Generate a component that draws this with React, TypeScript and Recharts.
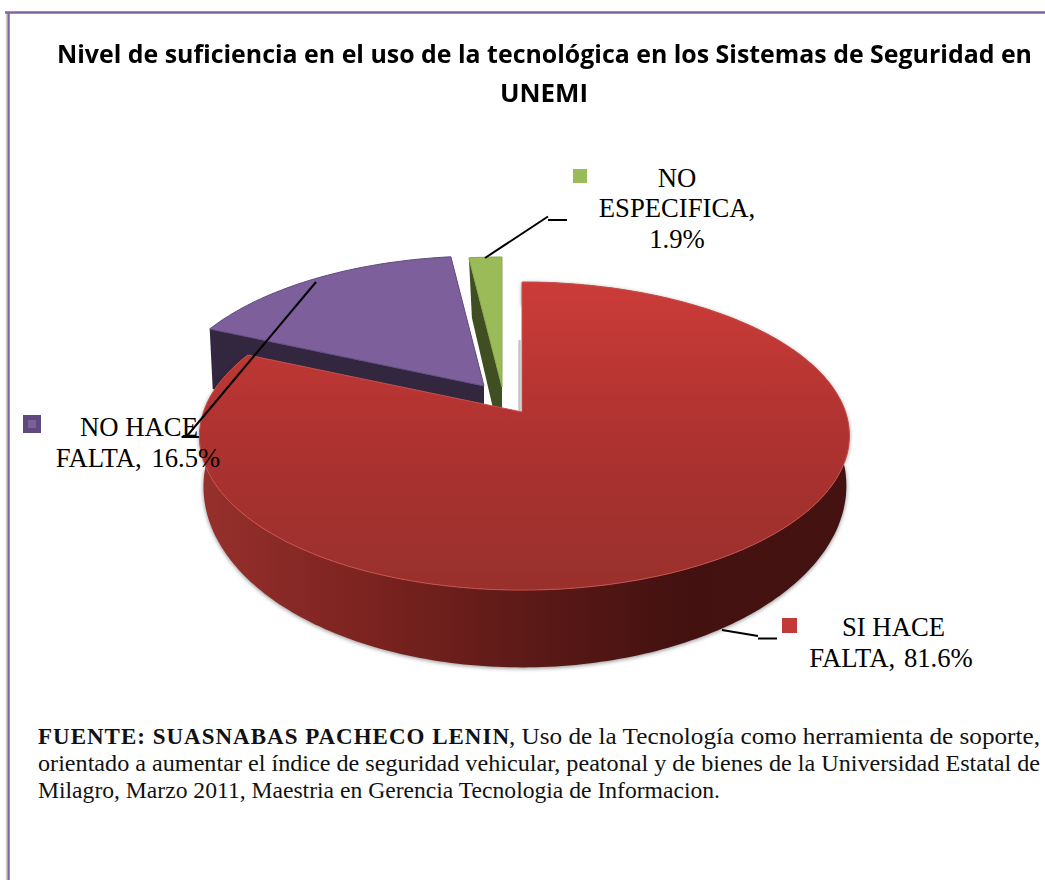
import React from "react";
import { PieChart, Pie } from "recharts";

const categories = ["NO HACE FALTA", "NO ESPECIFICA", "SI HACE FALTA"];
const values = [16.5, 1.9, 81.6];
const titleLines = [
  "Nivel de suficiencia en el uso de la tecnológica en los Sistemas de Seguridad en",
  "UNEMI",
];
const sourceBold = "FUENTE: SUASNABAS PACHECO LENIN";
const sourceLines = [
  ", Uso de la Tecnología como herramienta de soporte,",
  "orientado a aumentar el índice de seguridad vehicular, peatonal y de bienes de la Universidad Estatal de",
  "Milagro, Marzo 2011, Maestria en Gerencia Tecnologia de Informacion.",
];

// Look of each slice, same order as categories
const explode = [
  { dx: -38, dy: -26 },
  { dx: -20, dy: -25 },
  { dx: 0, dy: 0 },
];
const faceFill = ["#7d5f9b", "#9bbb59", "url(#redFace)"];
const faceStroke = ["#5f4a80", "#8aa84e", "#c9504c"];
const cutFill = ["#33273f", "#404f22", "none"];

const TOP = { shift: 0, A: 321, B: 150.3, p: 0.156, skew: 2.5 };
const BOTTOM = { shift: 46, A: 317.5, B: 176.7, p: 0.156, skew: 3 };
const CUT_DEPTH = 60;
const CUT_SLANT = 3;

function project(deg: number, f: typeof TOP, cx: number, cy: number) {
  const r = (deg * Math.PI) / 180;
  const u = Math.cos(r);
  const v = Math.sin(r);
  const w = 1 + f.p * v;
  return [cx + (f.A * u) / w + f.skew * u * u, cy + f.shift - (f.B * v) / w];
}

function arc(start: number, end: number, f: typeof TOP, cx: number, cy: number) {
  const n = Math.max(8, Math.ceil(Math.abs(end - start)));
  const pts: number[][] = [];
  for (let i = 0; i <= n; i++) pts.push(project(start + ((end - start) * i) / n, f, cx, cy));
  return pts;
}
const toPath = (pts: number[][]) =>
  "M" + pts.map((p) => p[0].toFixed(1) + " " + p[1].toFixed(1)).join("L") + "Z";

function Slice3D(props: any) {
  const { cx, cy, startAngle, endAngle, index } = props;
  const { dx, dy } = explode[index];
  const x = cx + dx;
  const y = cy + dy;
  const top = arc(startAngle, endAngle, TOP, x, y);
  const isMain = index === 2;
  const face = toPath([[x, y], ...top]);
  const far = top[0];
  return (
    <g>
      {isMain ? (
        <g>
          <defs>
            <linearGradient id="redFace" gradientUnits="userSpaceOnUse" x1="0" y1="282" x2="0" y2="592">
              <stop offset="0" stopColor="#cb3c38" />
              <stop offset="0.5" stopColor="#ae3230" />
              <stop offset="1" stopColor="#98302c" />
            </linearGradient>
            <linearGradient id="redWall" gradientUnits="userSpaceOnUse" x1="203" y1="0" x2="850" y2="0">
              <stop offset="0" stopColor="#96302c" />
              <stop offset="0.25" stopColor="#7c2320" />
              <stop offset="0.5" stopColor="#5c1a17" />
              <stop offset="0.75" stopColor="#421110" />
              <stop offset="1" stopColor="#431211" />
            </linearGradient>
          </defs>
          <path
            d={toPath([...top, ...arc(startAngle, endAngle, BOTTOM, x, y).reverse()])}
            fill="url(#redWall)"
            style={{ filter: "drop-shadow(0px 1px 2px rgba(0,0,0,0.45))" }}
          />
          <line x1={x - 2.5} y1={y - 72} x2={x - 2.5} y2={y} stroke="#c4c4c4" strokeWidth={2.5} />
        </g>
      ) : (
        <path
          d={toPath([[x, y], far, [far[0] + CUT_SLANT, far[1] + CUT_DEPTH], [x, y + CUT_DEPTH]])}
          fill={cutFill[index]}
        />
      )}
      <path d={face} fill={faceFill[index]} stroke={faceStroke[index]} strokeWidth={1} />
    </g>
  );
}

const pieData = categories.map((name, i) => ({ name, value: values[i] }));

const serif = "'Liberation Serif', serif";
const labelStyle = { fontFamily: serif, fontSize: 26.7, fill: "#000" } as const;

function Overlay() {
  return (
    <svg width={1045} height={880} style={{ position: "absolute", left: 0, top: 0 }}>
      <line x1={5} y1={12.5} x2={1045} y2={12.5} stroke="#8064a2" strokeWidth={2.5} />
      <line x1={8.5} y1={12} x2={8.5} y2={880} stroke="#8064a2" strokeWidth={2.5} />
      <line x1={6.5} y1={14} x2={6.5} y2={880} stroke="#cfcfcf" strokeWidth={1.5} />

      <g fontFamily="'Open Sans', sans-serif" fontWeight={700} fontSize={25} fill="#000" style={{ filter: "blur(0.5px)" }}>
        <text x={57} y={63} textLength={975} lengthAdjust="spacingAndGlyphs">{titleLines[0]}</text>
        <text x={500} y={102} textLength={88} lengthAdjust="spacingAndGlyphs">{titleLines[1]}</text>
      </g>

      {/* legend keys */}
      <rect x={573} y={169} width={14} height={14} fill="#9bbb59" />
      <rect x={23} y={415} width={18} height={18} fill="#5f4a80" />
      <rect x={28} y={420} width={8} height={8} fill="#7d5f9b" />
      <rect x={782} y={618} width={15} height={15} fill="#c23a37" />

      {/* labels */}
      <g {...labelStyle} textAnchor="middle">
        <text x={677} y={187}>NO</text>
        <text x={677} y={217}>ESPECIFICA,</text>
        <text x={677} y={248}>1.9%</text>
        <text x={139} y={436}>NO HACE</text>
        <text x={138} y={467} wordSpacing={3}>FALTA, 16.5%</text>
        <text x={893.500} y={636}>SI HACE</text>
        <text x={891} y={667} wordSpacing={2}>FALTA, 81.6%</text>
      </g>

      {/* leader lines */}
      <g stroke="#000" fill="none" strokeWidth={2}>
        <path d="M485 258L548 216.5" />
        <path d="M548 220H567" />
        <path d="M316 282L187 436" />
        <path d="M181.500 437H199" />
        <path d="M722 630L758 636" />
        <path d="M758 638.500H777" />
      </g>

      {/* source note */}
      <g fontFamily={serif} fontSize={23} fill="#111">
        <text x={38} y={744} fontWeight={700} textLength={471} lengthAdjust="spacing">{sourceBold}</text>
        <text x={509} y={744} textLength={531} lengthAdjust="spacingAndGlyphs">{sourceLines[0]}</text>
        <text x={38} y={771} textLength={1002} lengthAdjust="spacingAndGlyphs">{sourceLines[1]}</text>
        <text x={38} y={798} textLength={682} lengthAdjust="spacingAndGlyphs">{sourceLines[2]}</text>
      </g>
    </svg>
  );
}

export default function App() {
  return (
    <div style={{ position: "absolute", left: 0, top: 0, width: 1045, height: 880, background: "#fff", overflow: "hidden" }}>
      <div style={{ position: "absolute", left: 0, top: 0 }}>
        <PieChart width={1045} height={880} margin={{ top: 0, right: 0, bottom: 0, left: 0 }}>
          <Pie
            data={pieData}
            dataKey="value"
            nameKey="name"
            cx={522}
            cy={412}
            innerRadius={0}
            outerRadius={150}
            startAngle={156.24}
            endAngle={-203.76}
            paddingAngle={0}
            stroke="none"
            isAnimationActive={false}
            labelLine={false}
            shape={Slice3D}
          />
        </PieChart>
      </div>
      <Overlay />
    </div>
  );
}
